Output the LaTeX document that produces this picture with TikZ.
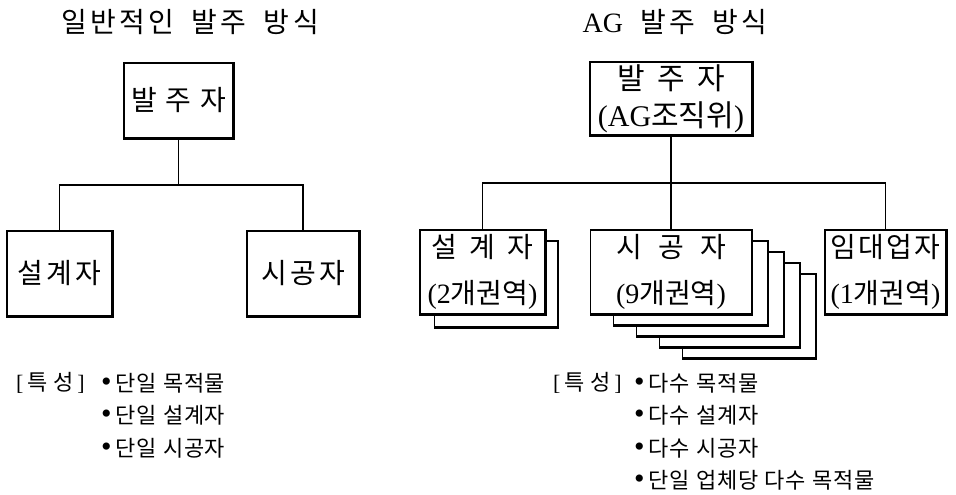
\documentclass[tikz,border=0pt]{standalone}
\usepackage{fontspec}
\setmainfont{Liberation Serif}
\newfontfamily\kr{Noto Sans CJK KR}
\newfontfamily\krs{Noto Sans CJK KR}[LetterSpace=12,WordSpace=1.8]
\newfontfamily\krl{Noto Sans CJK KR}[LetterSpace=3,WordSpace=1.2]
\newcommand\lat[1]{{\rmfamily #1}}
\newcommand\spread[2]{\makebox[#1][s]{#2}}
\newcommand\bul{{\rmfamily\fontsize{30}{30}\selectfont •}}

\begin{document}
\begin{tikzpicture}[x=1pt, y=-1pt]
	\tikzstyle{card}=[draw, fill=white, line width=1.2pt, inner sep=0pt, align=center, font={\kr\fontsize{28}{46}\selectfont}]
	\tikzstyle{rim}=[line width=2.4pt]
	\tikzstyle{wire}=[line width=1.2pt]
	\tikzstyle{title}=[font={\krs\fontsize{28}{32}\selectfont}]
	\tikzstyle{item}=[anchor=west, inner sep=0pt, font={\krl\fontsize{22}{26}\selectfont}]

	\useasboundingbox (0,0) rectangle (956,495);

	% left: usual ordering
	\node[title] (ltitle) at (190,22) {일반적인 발주 방식};
	\node[card, minimum width=109, minimum height=75] (lown) at (178.5,100.5) {\spread{95pt}{발\hfill 주\hfill 자}};
	\node[card, minimum width=105, minimum height=85] (ldes) at (59.5,273.5) {\spread{84pt}{설\hfill 계\hfill 자}};
	\node[card, minimum width=112, minimum height=85] (lcon) at (303,273.5) {\spread{84pt}{시\hfill 공\hfill 자}};
	\coordinate (lj) at (lown.south |- 0,185);
	\draw[wire] (lown) -- (lj);
	\draw[wire] (ldes) |- (lj) -| (lcon);
	\foreach \n in {lown,ldes,lcon}
		\draw[rim] (\n.north east) -- (\n.south east) -- (\n.south west);

	\node[item] (ltag) at (16,383) {\lat{[}\,특\;성\,\lat{]}};
	\foreach \t [count=\i] in {단일 목적물, 단일 설계자, 단일 시공자}
		\node[item] (lit\i) at (101,350.5+32.5*\i) {\bul\,\t};

	% right: AG ordering
	\node[title] (rtitle) at (675,22) {\lat{AG} 발주 방식};
	\node[card, minimum width=162, minimum height=73, font={\kr\fontsize{30}{37}\selectfont}] (rown) at (671,98.5) {\spread{108pt}{발\hfill 주\hfill 자}\\\lat{(AG}조직위\lat{)}};
	\draw[rim] (rown.north east) -- (rown.south east) -- (rown.south west);

	\node[card, minimum width=123, minimum height=86] (rdes1) at (496,284) {};
	\draw[rim] (rdes1.north east) -- (rdes1.south east) -- (rdes1.south west);
	\node[card, minimum width=125, minimum height=84] (rdes) at (482.5,272) {\spread{102pt}{설\hfill 계\hfill 자}\\\lat{(2}개권역\lat{)}};

	\foreach \k in {4,3,2,1}{
		\node[card, minimum width=161-7*\k, minimum height=84] (rcon\k) at (671+19.5*\k,272+11*\k) {};
		\draw[rim] (rcon\k.north east) -- (rcon\k.south east) -- (rcon\k.south west);
	}
	\node[card, minimum width=161, minimum height=84] (rcon) at (671,272) {\spread{110pt}{시\hfill 공\hfill 자}\\\lat{(9}개권역\lat{)}};
	\node[card, minimum width=121, minimum height=84] (rlea) at (885.5,272) {\spread{110pt}{임\hfill 대\hfill 업\hfill 자}\\\lat{(1}개권역\lat{)}};

	\coordinate (rj) at (rown.south |- 0,183);
	\draw[wire] (rown) -- (rj) -- (rcon);
	\draw[wire] (rdes) |- (rj) -| (rlea);
	\foreach \n in {rdes,rcon,rlea}
		\draw[rim] (\n.north east) -- (\n.south east) -- (\n.south west);

	\node[item] (rtag) at (553,383) {\lat{[}\,특\;성\,\lat{]}};
	\foreach \t [count=\i] in {다수 목적물, 다수 설계자, 다수 시공자, 단일 업체당 다수 목적물}
		\node[item] (rit\i) at (634,350.5+32.5*\i) {\bul\,\t};
\end{tikzpicture}
\end{document}
